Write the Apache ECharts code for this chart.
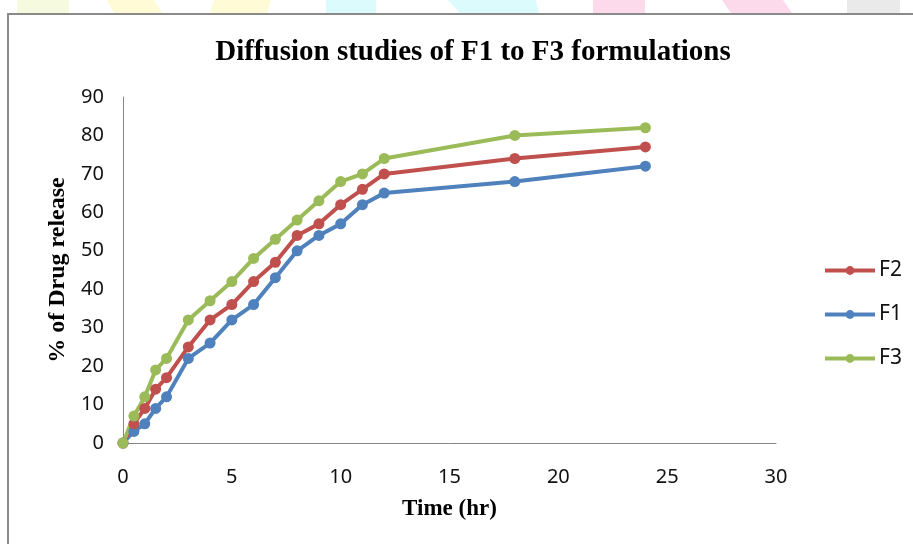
<!DOCTYPE html>
<html>
<head>
<meta charset="utf-8">
<script src="https://cdn.jsdelivr.net/npm/echarts@6/dist/echarts.min.js"></script>
<style>
  html, body { margin: 0; padding: 0; background: #ffffff; }
  #chart { width: 913px; height: 544px; }
</style>
</head>
<body>
<div id="chart"></div>
<script>
// Sampling times (hr)
const timeHours = [0, 0.5, 1, 1.5, 2, 3, 4, 5, 6, 7, 8, 9, 10, 11, 12, 18, 24];

// Cumulative % drug released for each formulation
const releaseF1 = [0, 3, 5, 9, 12, 22, 26, 32, 36, 43, 50, 54, 57, 62, 65, 68, 72];
const releaseF2 = [0, 5, 9, 14, 17, 25, 32, 36, 42, 47, 54, 57, 62, 66, 70, 74, 77];
const releaseF3 = [0, 7, 12, 19, 22, 32, 37, 42, 48, 53, 58, 63, 68, 70, 74, 80, 82];

const legendOrder = ['F2', 'F1', 'F3'];
const yTicks = { min: 0, max: 90, interval: 10 };
const xTicks = { min: 0, max: 30, interval: 5 };

const pairs = (vals) => timeHours.map((t, i) => [t, vals[i]]);

const serif = '"Liberation Serif", "DejaVu Serif", serif';
const sans = '"Noto Sans", "Open Sans", sans-serif';

function lineSeries(name, vals, color) {
  return {
    name: name,
    type: 'line',
    data: pairs(vals),
    symbol: 'circle',
    symbolSize: 11,
    showSymbol: true,
    lineStyle: { color: color, width: 4 },
    itemStyle: { color: color },
    emphasis: { disabled: true },
    animation: false
  };
}

// Faint decorative band above the frame
const band = [
  { pts: [[17,0],[69,0],[69,13],[17,13]], c: '#f6fbe0' },
  { pts: [[107,0],[154,0],[162,13],[114,13]], c: '#fffbd6' },
  { pts: [[214,0],[271,0],[267,13],[210,13]], c: '#fffbd6' },
  { pts: [[326,0],[376,0],[376,13],[326,13]], c: '#dcfbfd' },
  { pts: [[448,0],[536,0],[539,13],[460,13]], c: '#dcfbfd' },
  { pts: [[593,0],[645,0],[645,13],[593,13]], c: '#fdd9ec' },
  { pts: [[722,0],[783,0],[792,13],[731,13]], c: '#fdd9ec' },
  { pts: [[847,0],[900,0],[900,13],[847,13]], c: '#eaeaea' }
];

const graphics = band.map(b => ({
  type: 'polygon', silent: true, z: 0,
  shape: { points: b.pts },
  style: { fill: b.c }
}));
// Frame edges (top and left)
graphics.push({
  type: 'rect', silent: true, z: 1,
  shape: { x: 7, y: 13, width: 913 - 7, height: 2 },
  style: { fill: '#8a8a8a' }
});
graphics.push({
  type: 'rect', silent: true, z: 1,
  shape: { x: 7, y: 13, width: 2, height: 544 - 13 },
  style: { fill: '#8a8a8a' }
});

const chart = echarts.init(document.getElementById('chart'), null, { renderer: 'canvas' });
chart.setOption({
  backgroundColor: '#ffffff',
  animation: false,
  graphic: graphics,
  title: {
    text: 'Diffusion studies of F1 to F3 formulations',
    left: 468,
    top: 33,
    textAlign: 'center',
    textStyle: { fontFamily: serif, fontWeight: 'bold', fontSize: 29, color: '#000' }
  },
  legend: {
    data: legendOrder,
    orient: 'vertical',
    left: 823,
    top: 260,
    padding: 0,
    itemWidth: 50,
    itemHeight: 11,
    itemGap: 23,
    lineStyle: { width: 4 },
    textStyle: { fontFamily: sans, fontSize: 21, color: '#111', padding: [0, 0, 0, -1] }
  },
  grid: { left: 123, right: 137, top: 97, bottom: 101, containLabel: false },
  xAxis: {
    type: 'value',
    min: xTicks.min, max: xTicks.max, interval: xTicks.interval,
    name: 'Time (hr)',
    nameLocation: 'middle',
    nameGap: 55,
    nameTextStyle: { fontFamily: serif, fontWeight: 'bold', fontSize: 23, color: '#000' },
    axisLine: { show: true, lineStyle: { color: '#868686', width: 1 } },
    axisTick: { show: false },
    splitLine: { show: false },
    axisLabel: { fontFamily: sans, fontSize: 20, color: '#111', margin: 24 }
  },
  yAxis: {
    type: 'value',
    min: yTicks.min, max: yTicks.max, interval: yTicks.interval,
    name: '% of Drug release',
    nameLocation: 'middle',
    nameGap: 53,
    nameTextStyle: { fontFamily: serif, fontWeight: 'bold', fontSize: 24, color: '#000' },
    axisLine: { show: true, lineStyle: { color: '#868686', width: 1 } },
    axisTick: { show: false },
    splitLine: { show: false },
    axisLabel: { fontFamily: sans, fontSize: 20, color: '#111', margin: 19 }
  },
  series: [
    lineSeries('F1', releaseF1, '#4f81bd'),
    lineSeries('F2', releaseF2, '#c0504d'),
    lineSeries('F3', releaseF3, '#9bbb59')
  ]
});
</script>
</body>
</html>
